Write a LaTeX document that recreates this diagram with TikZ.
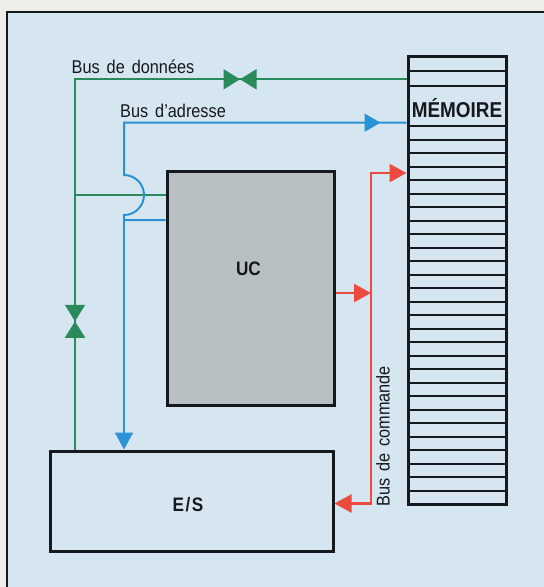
\documentclass[tikz,border=0pt]{standalone}
\usepackage{fontspec}
\setmainfont[FakeStretch=0.88]{Liberation Sans}
\usepackage{tikz}
\usetikzlibrary{arrows.meta,decorations.markings}
\definecolor{paper}{HTML}{EEEDE9}
\definecolor{sky}{HTML}{D5E6F1}
\definecolor{ucgray}{HTML}{B9C0C4}
\definecolor{datagreen}{HTML}{2A8A5C}
\definecolor{addrblue}{HTML}{2C92D6}
\definecolor{cmdred}{HTML}{EC4A3F}
\definecolor{ink}{HTML}{15181C}
\newcommand\busfont{\fontsize{18.5}{20}\selectfont\spaceskip 7pt plus 1pt\relax}

\begin{document}
\begin{tikzpicture}[x=1pt,y=-1pt,box/.style={draw=ink,line width=3pt,inner sep=0pt},lbl/.style={font=\busfont,text=ink,inner sep=0pt,anchor=base west},title/.style={font=\bfseries\fontsize{19.5}{22}\selectfont,text=ink,inner sep=0pt,anchor=base},data/.style={draw=datagreen,line width=2pt},addr/.style={draw=addrblue,line width=2pt},cmd/.style={draw=cmdred,line width=2.4pt},tip/.style={-{Triangle[length=17pt,width=18pt]}},bowtie/.style={postaction={decorate,decoration={markings,mark=at position #1 with {\arrow[datagreen]{Triangle[length=16.5pt,width=20pt]}\arrowreversed[datagreen]{Triangle[length=16.5pt,width=20pt]}}}}},midtip/.style={postaction={decorate,decoration={markings,mark=at position #1 with {\arrow[addrblue]{Triangle[length=16pt,width=18pt]}}}}},rowline/.style={draw=ink,line width=2pt}]
\useasboundingbox (0,0) rectangle (544,587);
% sheet and frame
\fill[paper] (0,0) rectangle (544,587);
\fill[sky] (7,12) rectangle (544,587);
\draw[ink,line width=2.5pt] (7,587) -- (7,12) -- (545,12);
% units
\node[box,fill=ucgray,minimum width=167,minimum height=234] (uc) at (250.5,288) {};
\node[box,minimum width=283,minimum height=100] (es) at (191.5,501) {};
\node[box,minimum width=98,minimum height=448] (mem) at (457,280) {};
\foreach \y in {70.7,85.7,126}
  \draw[rowline] (409,\y) -- (505,\y);
\foreach \k in {1,...,27}
  \draw[rowline] (409,{126+13.5*\k}) -- (505,{126+13.5*\k});
\node[title,font=\bfseries\fontsize{21.5}{24}\selectfont] (memlbl) at (457,117.3) {MÉMOIRE};
\node[title] (uclbl) at (248.5,275) {UC};
\node[title] (eslbl) at (188,511.7) {E\kern1.5pt/\kern1.5pt S};
% data bus
\coordinate (dcorner) at (75,79.3);
\coordinate (dtee) at (75,195);
\draw[data,bowtie=166.5pt,bowtie=573.5pt] (mem.west |- dcorner) -- (dcorner) -- (es.north -| dcorner);
\draw[data] (dtee) -- (uc.west |- dtee);
\node[lbl] (datalbl) at (71.5,73.3) {Bus de données};
% address bus
\coordinate (acorner) at (124,122.7);
\coordinate (atee) at (124,220);
\draw[addr,midtip=-26pt] (uc.west |- atee) -- (atee) -- (124,215) arc[start angle=90,end angle=-90,radius=20] -- (acorner) -- (mem.west |- acorner);
\draw[addr,tip] (atee) -- (es.north -| atee);
\node[lbl] (addrlbl) at (120,117.3) {Bus d’adresse};
% command bus
\coordinate (cmid) at (371,293);
\coordinate (ctop) at (371,173);
\coordinate (cbot) at (371,503.5);
\draw[cmd,tip] (uc.east |- cmid) -- (cmid);
\draw[cmd,tip] (cmid) -- (ctop) -- (mem.west |- ctop);
\draw[cmd,tip] (cmid) -- (cbot) -- (es.east |- cbot);
\node[lbl,rotate=90] (cmdlbl) at (389.5,507) {Bus de commande};
\end{tikzpicture}
\end{document}
